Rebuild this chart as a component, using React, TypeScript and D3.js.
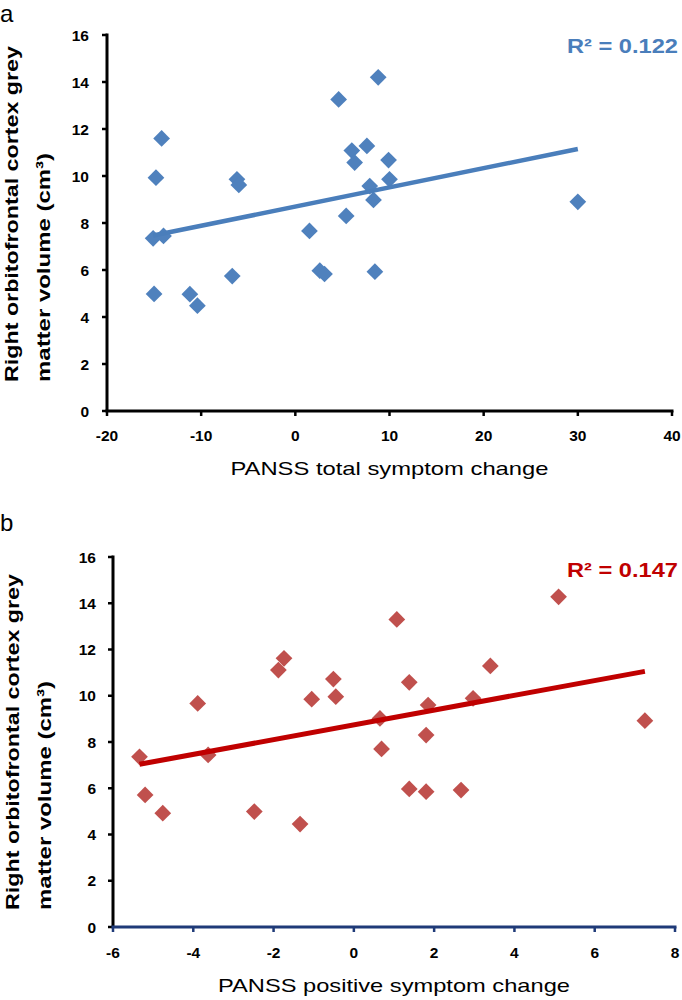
import React from "react";
import * as d3 from "d3";

// ---- Data ----
const totalChange = [-14.2, -14.8, -15.1, -14.0, -15.0, -11.2, -10.4, -6.7, -6.2, -6.0, 1.5, 2.6, 3.1, 5.4, 8.45, 7.9, 8.3, 10.0, 9.9, 6.0, 6.3, 7.6, 4.6, 8.8, 30.0];
const volumeA = [11.6, 9.93, 7.35, 7.45, 4.98, 4.97, 4.48, 5.74, 9.86, 9.62, 7.66, 5.97, 5.83, 8.3, 5.93, 9.57, 8.98, 9.86, 10.68, 11.08, 10.57, 11.28, 13.26, 14.2, 8.9];

const positiveChange = [-5.34, -5.2, -4.76, -3.89, -3.63, -2.48, -1.34, -1.88, -1.74, -1.05, -0.51, -0.45, 1.07, 0.65, 0.69, 1.38, 1.38, 1.85, 1.8, 1.8, 2.67, 2.97, 3.4, 5.1, 7.25];
const volumeB = [7.36, 5.71, 4.92, 9.67, 7.44, 4.99, 4.45, 11.11, 11.62, 9.85, 10.72, 9.96, 13.3, 9.02, 7.7, 10.58, 5.97, 9.6, 8.3, 5.85, 5.92, 9.89, 11.29, 14.28, 8.92];

const yTicks = [0, 2, 4, 6, 8, 10, 12, 14, 16];
const xTicksA = [-20, -10, 0, 10, 20, 30, 40];
const xTicksB = [-6, -4, -2, 0, 2, 4, 6, 8];

const r2Labels = ["R² = 0.122", "R² = 0.147"];
const xTitles = ["PANSS total symptom change", "PANSS positive symptom change"];
const yTitle = ["Right orbitofrontal cortex grey", "matter volume (cm³)"];
const panelLetters = ["a", "b"];

const FONT = "'Liberation Sans', Arial, sans-serif";

function fit(xs: number[], ys: number[]) {
  const mx = d3.mean(xs)!;
  const my = d3.mean(ys)!;
  let sxy = 0, sxx = 0;
  xs.forEach((x, i) => {
    sxy += (x - mx) * (ys[i] - my);
    sxx += (x - mx) * (x - mx);
  });
  const slope = sxy / sxx;
  return { slope, intercept: my - slope * mx };
}

type PanelProps = {
  xs: number[];
  ys: number[];
  xDomain: [number, number];
  xRange: [number, number];
  yRange: [number, number];
  xTicks: number[];
  markerColor: string;
  lineColor: string;
  xAxisColor: string;
  r2: string;
  r2Baseline: number;
  xTitle: string;
  xTitleBaseline: number;
  xTitleLength: number;
  tickLabelBaseline: number;
  yLabelEnd: number;
  yTitleBottom: number;
  yTitleX: [number, number];
  letter: string;
  letterBaseline: number;
  lineWidth: number;
};

function Panel(p: PanelProps) {
  const x = d3.scaleLinear().domain(p.xDomain).range(p.xRange);
  const y = d3.scaleLinear().domain([0, 16]).range(p.yRange);
  const { slope, intercept } = fit(p.xs, p.ys);
  const [x0, x1] = d3.extent(p.xs) as [number, number];
  const line = d3.line<number>().x((d) => x(d)).y((d) => y(slope * d + intercept));
  const diamond = d3.symbol(d3.symbolSquare, 140)()!;
  const ax = x(p.xDomain[0]);
  const ay = y(0);
  const cx = (p.xRange[0] + p.xRange[1]) / 2;
  return (
    <g>
      <text x={0} y={p.letterBaseline} fontFamily={FONT} fontSize={24} fill="#000">{p.letter}</text>
      {/* y axis */}
      <line x1={ax} x2={ax} y1={y(16) - 1.5} y2={ay} stroke="#000" strokeWidth={3} />
      {yTicks.map((t) => (
        <g key={"yt" + t}>
          <line x1={ax - 5} x2={ax} y1={y(t)} y2={y(t)} stroke="#000" strokeWidth={2.5} />
          <text x={p.yLabelEnd} y={y(t)} dy="0.36em" textAnchor="end" fontFamily={FONT} fontWeight="bold" fontSize={15.5} fill="#000">{t}</text>
        </g>
      ))}
      {/* x axis */}
      <line x1={ax - 1.5} x2={x(p.xDomain[1]) + 1.5} y1={ay} y2={ay} stroke={p.xAxisColor} strokeWidth={3} />
      {p.xTicks.map((t) => (
        <g key={"xt" + t}>
          <line x1={x(t)} x2={x(t)} y1={ay} y2={ay + 5} stroke={p.xAxisColor} strokeWidth={2.5} />
          <text x={x(t)} y={p.tickLabelBaseline} textAnchor="middle" fontFamily={FONT} fontWeight="bold" fontSize={15.5} fill="#000">{t}</text>
        </g>
      ))}
      {/* points */}
      {p.xs.map((v, i) => (
        <path key={"pt" + i} d={diamond} transform={`translate(${x(v)},${y(p.ys[i])}) rotate(45)`} fill={p.markerColor} />
      ))}
      {/* trend line */}
      <path d={line([x0, x1])!} stroke={p.lineColor} strokeWidth={p.lineWidth} fill="none" />
      <text x={678} y={p.r2Baseline} textAnchor="end" fontFamily={FONT} fontWeight="bold" fontSize={21} fill={p.lineColor} textLength={111} lengthAdjust="spacingAndGlyphs">{p.r2}</text>
      {/* axis titles */}
      <text x={cx} y={p.xTitleBaseline} textAnchor="middle" fontFamily={FONT} fontSize={19} fill="#000" textLength={p.xTitleLength} lengthAdjust="spacingAndGlyphs">{p.xTitle}</text>
      <text transform={`translate(${p.yTitleX[0]},${p.yTitleBottom}) rotate(-90)`} fontFamily={FONT} fontWeight="bold" fontSize={19} fill="#000" textLength={336} lengthAdjust="spacingAndGlyphs">{yTitle[0]}</text>
      <text transform={`translate(${p.yTitleX[1]},${p.yTitleBottom}) rotate(-90)`} fontFamily={FONT} fontWeight="bold" fontSize={19} fill="#000" textLength={229} lengthAdjust="spacingAndGlyphs">{yTitle[1]}</text>
    </g>
  );
}

export default function App() {
  return (
    <svg width={682} height={1000} viewBox="0 0 682 1000" style={{ position: "absolute", left: 0, top: 0, display: "block", background: "#fff" }}>
      <rect width={682} height={1000} fill="#fff" />
      <Panel
        xs={totalChange}
        ys={volumeA}
        xDomain={[-20, 40]}
        xRange={[107, 672]}
        yRange={[411, 35]}
        xTicks={xTicksA}
        markerColor="#4F81BD"
        lineColor="#4A7EBB"
        xAxisColor="#000"
        r2={r2Labels[0]}
        r2Baseline={53}
        xTitle={xTitles[0]}
        xTitleBaseline={475}
        xTitleLength={318}
        tickLabelBaseline={441}
        yLabelEnd={89}
        yTitleBottom={382}
        yTitleX={[18, 50]}
        letter={panelLetters[0]}
        letterBaseline={22}
        lineWidth={4.5}
      />
      <Panel
        xs={positiveChange}
        ys={volumeB}
        xDomain={[-6, 8]}
        xRange={[113, 675]}
        yRange={[927, 557]}
        xTicks={xTicksB}
        markerColor="#C0504D"
        lineColor="#C00000"
        xAxisColor="#1F3A78"
        r2={r2Labels[1]}
        r2Baseline={577}
        xTitle={xTitles[1]}
        xTitleBaseline={992}
        xTitleLength={352}
        tickLabelBaseline={958}
        yLabelEnd={96}
        yTitleBottom={910}
        yTitleX={[19, 51]}
        letter={panelLetters[1]}
        letterBaseline={531}
        lineWidth={5}
      />
    </svg>
  );
}
